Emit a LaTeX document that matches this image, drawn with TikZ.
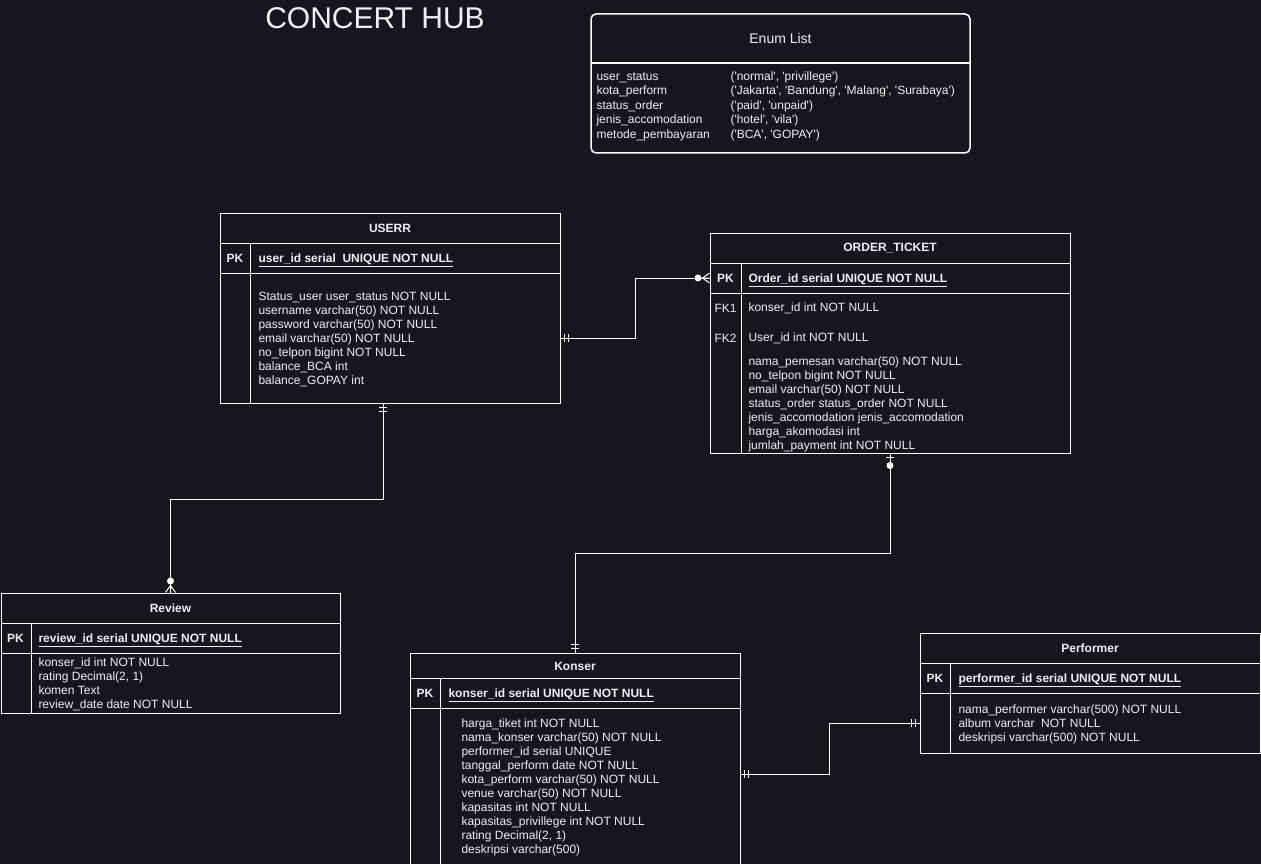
\documentclass[tikz,border=0pt]{standalone}
\usepackage{fontspec}
\setmainfont{Liberation Sans}
\usetikzlibrary{calc}
\definecolor{cbg}{RGB}{24,21,29}
\definecolor{cink}{RGB}{240,240,240}
\newcommand{\q}[1]{\textquotesingle#1\textquotesingle}

\begin{document}
\begin{tikzpicture}[x=1pt,y=1pt,line width=1pt,
  every node/.style={text=cink,font=\fontsize{12}{14}\selectfont,inner sep=0pt},
  tbox/.style 2 args={draw=white,line width=1pt,minimum width=#1,minimum height=#2},
  attr/.style={anchor=west,text height=9pt,text depth=3pt,yshift=-1.5pt},
  keyf/.style={attr,font=\fontsize{12}{14}\selectfont\bfseries},
  thead/.style={font=\fontsize{12}{14}\selectfont\bfseries},
  rel/.style={draw=white,line width=1pt},
  mandone/.pic={\draw[white] (4,-4) -- (4,4) (8,-4) -- (8,4);},
  zeromany/.pic={\draw[white] (0,-5) -- (7,0) -- (0,5) (0,0) -- (7,0); \fill[white] (11.5,0) circle (3.5pt);},
  zeroone/.pic={\draw[white] (4,-4) -- (4,4); \fill[white] (12,0) circle (3.5pt);}]

\fill[cbg] (0,0) rectangle (1261,-864);
\useasboundingbox (0,0) rectangle (1261,-864);

% ===== title =====
\node[font=\fontsize{30}{33}\selectfont] (title) at (375,-18.5) {CONCERT HUB};

% ===== enum list =====
\node[draw=white,line width=1.5pt,rounded corners=5pt,minimum width=379,minimum height=139] (enum) at (780.5,-83.5) {};
\draw[white,line width=1.5pt] (591,-63) -- (970,-63);
\node[font=\fontsize{14}{16}\selectfont] (enum-h) at (780.5,-38) {Enum List};
\foreach \n/\v [count=\i] in {user\_status/{(\q{normal}, \q{privillege})},
  kota\_perform/{(\q{Jakarta}, \q{Bandung}, \q{Malang}, \q{Surabaya})},
  status\_order/{(\q{paid}, \q{unpaid})},
  jenis\_accomodation/{(\q{hotel}, \q{vila})},
  metode\_pembayaran/{(\q{BCA}, \q{GOPAY})}}{
  \node[attr] (e-n\i) at (596,{-76-14.5*(\i-1)}) {\n};
  \node[attr] (e-v\i) at (730,{-76-14.5*(\i-1)}) {\v};
}

% ===== USERR =====
\node[tbox={340}{190}] (userr) at (390,-308) {};
\draw[white] (220,-243) -- (560,-243) (220,-273) -- (560,-273) (250,-243) -- (250,-403);
\node[thead] (userr-h) at (390,-228.5) {USERR};
\node[thead] (u-k) at (235,-258.5) {PK};
\node[keyf] (u-pk) at (258,-258) {\underline{user\_id serial\ \ UNIQUE NOT NULL}};
\foreach \t [count=\i] in {Status\_user user\_status NOT NULL,username varchar(50) NOT NULL,
  password varchar(50) NOT NULL,email varchar(50) NOT NULL,no\_telpon bigint NOT NULL,
  balance\_BCA int,balance\_GOPAY int}
  \node[attr] (u-a\i) at (258,{-296-14*(\i-1)}) {\t};

% ===== ORDER_TICKET =====
\node[tbox={360}{220}] (order) at (890,-343) {};
\draw[white] (710,-263) -- (1070,-263) (710,-293) -- (1070,-293) (741,-263) -- (741,-453);
\node[thead] (order-h) at (890,-248.5) {ORDER\_TICKET};
\node[thead] (o-k) at (725.5,-278.5) {PK};
\node[keyf] (o-pk) at (748,-278) {\underline{Order\_id serial UNIQUE NOT NULL}};
\node (o-f1) at (725.5,-308) {FK1};
\node[attr] (o-fk1) at (748,-307) {konser\_id int NOT NULL};
\node (o-f2) at (725.5,-338) {FK2};
\node[attr] (o-fk2) at (748,-337) {User\_id int NOT NULL};
\foreach \t [count=\i] in {nama\_pemesan varchar(50) NOT NULL,no\_telpon bigint NOT NULL,
  email varchar(50) NOT NULL,status\_order status\_order NOT NULL,
  jenis\_accomodation jenis\_accomodation,harga\_akomodasi int,jumlah\_payment int NOT NULL}
  \node[attr] (o-a\i) at (748,{-361-14*(\i-1)}) {\t};

% ===== Review =====
\node[tbox={339}{120}] (review) at (170.5,-653) {};
\draw[white] (1,-623) -- (340,-623) (1,-653) -- (340,-653) (31,-623) -- (31,-713);
\node[thead] (review-h) at (170.5,-608.5) {Review};
\node[thead] (r-k) at (15.5,-638.5) {PK};
\node[keyf] (r-pk) at (38,-638) {\underline{review\_id serial UNIQUE NOT NULL}};
\foreach \t [count=\i] in {konser\_id int NOT NULL,{rating Decimal(2, 1)},komen Text,review\_date date NOT NULL}
  \node[attr] (r-a\i) at (38,{-662-14*(\i-1)}) {\t};

% ===== Konser =====
\node[tbox={330}{213}] (konser) at (575,-759.5) {};
\draw[white] (410,-678) -- (740,-678) (410,-708) -- (740,-708) (440,-678) -- (440,-866);
\node[thead] (konser-h) at (575,-666.5) {Konser};
\node[thead] (k-k) at (425,-693.5) {PK};
\node[keyf] (k-pk) at (448,-693) {\underline{konser\_id serial UNIQUE NOT NULL}};
\foreach \t [count=\i] in {harga\_tiket int NOT NULL,nama\_konser varchar(50) NOT NULL,
  performer\_id serial UNIQUE,tanggal\_perform date NOT NULL,kota\_perform varchar(50) NOT NULL,
  venue varchar(50) NOT NULL,kapasitas int NOT NULL,kapasitas\_privillege int NOT NULL,
  {rating Decimal(2, 1)},deskripsi varchar(500)}
  \node[attr] (k-a\i) at (461,{-723-14*(\i-1)}) {\t};

% ===== Performer =====
\node[tbox={340}{120}] (performer) at (1090,-693) {};
\draw[white] (920,-663) -- (1260,-663) (920,-693) -- (1260,-693) (950,-663) -- (950,-753);
\node[thead] (performer-h) at (1090,-648.5) {Performer};
\node[thead] (p-k) at (935,-678.5) {PK};
\node[keyf] (p-pk) at (958,-678) {\underline{performer\_id serial UNIQUE NOT NULL}};
\foreach \t [count=\i] in {nama\_performer varchar(500) NOT NULL,album varchar\ \ NOT NULL,deskripsi varchar(500) NOT NULL}
  \node[attr] (p-a\i) at (958,{-709-14*(\i-1)}) {\t};

% ===== relations =====
\coordinate (c1a) at ([yshift=-30]userr.east);
\coordinate (c1b) at ([yshift=65]order.west);
\coordinate (c2a) at ([xshift=-7]userr.south);
\coordinate (c2b) at (review.north);
\coordinate (c3a) at (order.south);
\coordinate (c3b) at (konser.north);
\coordinate (c4a) at ([yshift=-14.5]konser.east);
\coordinate (c4b) at ([yshift=-30]performer.west);
\draw[rel] (c1a) -- ++(75,0) |- (c1b);
\draw[rel] (c2a) -- ++(0,-96) -| (c2b);
\draw[rel] (c3a) -- ++(0,-100) -| (c3b);
\draw[rel] (c4a) -- ++(89,0) |- (c4b);
\pic at (c1a) {mandone};
\pic[rotate=180] at (c1b) {zeromany};
\pic[rotate=-90] at (c2a) {mandone};
\pic[rotate=90] at (c2b) {zeromany};
\pic[rotate=-90] at (c3a) {zeroone};
\pic[rotate=90] at (c3b) {mandone};
\pic at (c4a) {mandone};
\pic[rotate=180] at (c4b) {mandone};
\end{tikzpicture}
\end{document}
